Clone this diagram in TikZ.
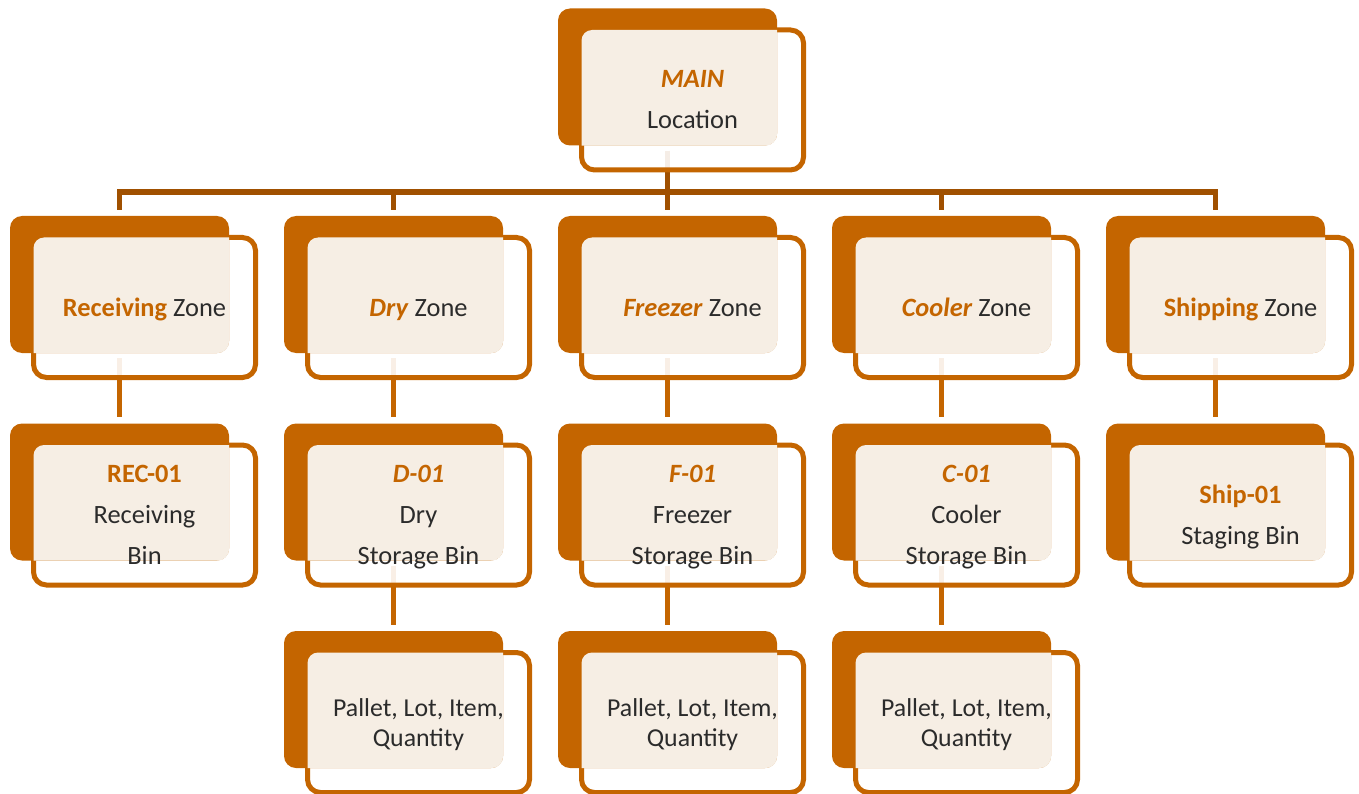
\documentclass[tikz,border=0pt]{standalone}
\usepackage{fontspec}
\setmainfont{Carlito}
\usetikzlibrary{calc}
\definecolor{boxor}{RGB}{196,101,0}
\definecolor{busor}{RGB}{160,80,0}
\definecolor{beige}{RGB}{246,238,228}
\definecolor{txt}{RGB}{43,43,43}
\pgfdeclarelayer{bg}
\pgfsetlayers{bg,main}
\tikzset{
  backbox/.style={fill=boxor, draw=none, rounded corners=12pt, minimum width=219pt, minimum height=137pt, inner sep=0pt},
  framebox/.style={draw=boxor, line width=5pt, fill=white, fill opacity=0.9, rounded corners=13pt, minimum width=222pt, minimum height=140pt, inner sep=0pt},
  labeltext/.style={text=txt, align=center, font=\fontsize{26.4}{41}\selectfont, inner sep=0pt},
  itemtext/.style={text=txt, align=center, font=\fontsize{25.8}{30}\selectfont, inner sep=0pt},
  busline/.style={draw=busor, line width=5.5pt},
  linkline/.style={draw=boxor, line width=5.5pt},
}
\newcommand{\hl}[1]{\textcolor{boxor}{\textbf{#1}}}
\newcommand{\hli}[1]{\textcolor{boxor}{\textbf{\textit{#1}}}}
\newcommand{\stl}{\rule[-9pt]{0pt}{35pt}}
\newcommand{\sts}{\rule[-5pt]{0pt}{27pt}}
% #1 name, #2 x centre of back box (px), #3 y centre of back box (px), #4 text style, #5 content
\newcommand{\unitbox}[5]{%
  \node[framebox] (#1-f) at ({#2+25},{-(#3+23)}) {};
  \node[backbox] (#1-b) at ({#2},{-#3}) {};
  \begin{scope}
    \clip[rounded corners=12pt] (#1-b.south west) rectangle (#1-b.north east);
    \fill[beige, rounded corners=10.5pt] ([shift={(2.5pt,2.5pt)}]#1-f.south west) rectangle ([shift={(-2.5pt,-2.5pt)}]#1-f.north east);
  \end{scope}
  \node[#4] (#1-t) at (#1-f.center) {#5};
}
\begin{document}
\begin{tikzpicture}[x=1pt,y=1pt]
\useasboundingbox (0,0) rectangle (1359,-794);
\unitbox{main}{667.5}{77}{labeltext}{\fontsize{26.4}{40}\selectfont\stl\hli{MAIN}\\\stl Location}
\unitbox{rec}{119.5}{284.5}{labeltext}{\stl\hl{Receiving} Zone}
\unitbox{dry}{393.5}{284.5}{labeltext}{\stl\hli{Dry} Zone}
\unitbox{frz}{667.5}{284.5}{labeltext}{\stl\hli{Freezer} Zone}
\unitbox{col}{941.5}{284.5}{labeltext}{\stl\hli{Cooler} Zone}
\unitbox{shp}{1215.5}{284.5}{labeltext}{\stl\hl{Shipping} Zone}
\unitbox{recb}{119.5}{492}{labeltext}{\stl\hl{REC-01}\\\stl Receiving\\\stl Bin}
\unitbox{dryb}{393.5}{492}{labeltext}{\stl\hli{D-01}\\\stl Dry\\\stl Storage Bin}
\unitbox{frzb}{667.5}{492}{labeltext}{\stl\hli{F-01}\\\stl Freezer\\\stl Storage Bin}
\unitbox{colb}{941.5}{492}{labeltext}{\stl\hli{C-01}\\\stl Cooler\\\stl Storage Bin}
\unitbox{shpb}{1215.5}{492}{labeltext}{\stl\hl{Ship-01}\\\stl Staging Bin}
\unitbox{dryi}{393.5}{699.5}{itemtext}{\sts Pallet, Lot, Item,\\\sts Quantity}
\unitbox{frzi}{667.5}{699.5}{itemtext}{\sts Pallet, Lot, Item,\\\sts Quantity}
\unitbox{coli}{941.5}{699.5}{itemtext}{\sts Pallet, Lot, Item,\\\sts Quantity}
\coordinate (bus) at (0,-192);
\begin{pgfonlayer}{bg}
  \draw[busline] ([yshift=-5pt]main-b.south) -- (main-b.south |- bus);
  \draw[busline] ([yshift=6pt]rec-b.north) -- (rec-b.north |- bus) -- (shp-b.north |- bus) -- ([yshift=6pt]shp-b.north);
  \draw[busline] (dry-b.north |- bus) -- ([yshift=6pt]dry-b.north);
  \draw[busline] (frz-b.north |- bus) -- ([yshift=6pt]frz-b.north);
  \draw[busline] (col-b.north |- bus) -- ([yshift=6pt]col-b.north);
  \draw[linkline] ([yshift=-5pt]rec-b.south) -- ([yshift=6pt]recb-b.north);
  \draw[linkline] ([yshift=-5pt]dry-b.south) -- ([yshift=6pt]dryb-b.north);
  \draw[linkline] ([yshift=-5pt]frz-b.south) -- ([yshift=6pt]frzb-b.north);
  \draw[linkline] ([yshift=-5pt]col-b.south) -- ([yshift=6pt]colb-b.north);
  \draw[linkline] ([yshift=-5pt]shp-b.south) -- ([yshift=6pt]shpb-b.north);
  \draw[linkline] ([yshift=-5pt]dryb-b.south) -- ([yshift=6pt]dryi-b.north);
  \draw[linkline] ([yshift=-5pt]frzb-b.south) -- ([yshift=6pt]frzi-b.north);
  \draw[linkline] ([yshift=-5pt]colb-b.south) -- ([yshift=6pt]coli-b.north);
\end{pgfonlayer}
\end{tikzpicture}
\end{document}
